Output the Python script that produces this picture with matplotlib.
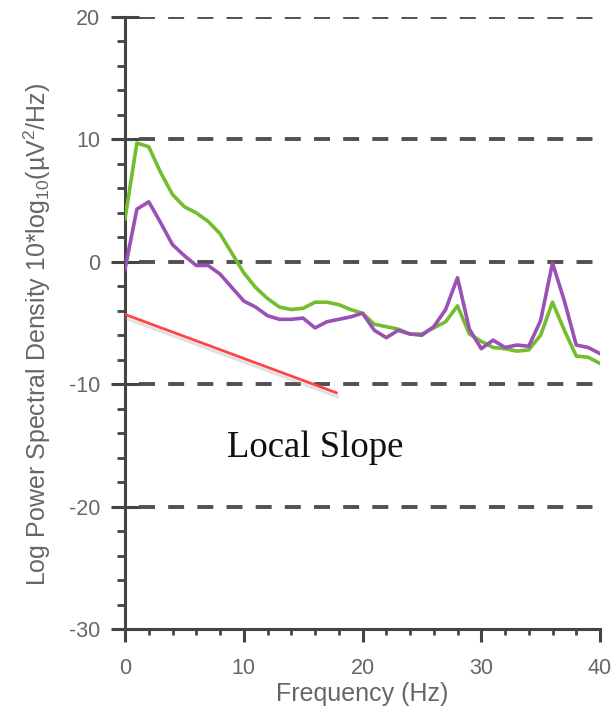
"""Log power spectral density of two EEG spectra with a local slope guide."""

import numpy as np
import matplotlib.pyplot as plt
import matplotlib.patheffects as pe
from matplotlib.ticker import MultipleLocator

plt.rcParams['font.family'] = ['Liberation Sans', 'DejaVu Sans']
plt.rcParams['mathtext.fontset'] = 'custom'
plt.rcParams['mathtext.rm'] = 'Liberation Sans'
plt.rcParams['mathtext.it'] = 'Liberation Sans:italic'
plt.rcParams['lines.scale_dashes'] = False
plt.rcParams['axes.unicode_minus'] = False

# spectra sampled at 1 Hz
freq = np.arange(0, 41)
psd_green = [3.5, 9.7, 9.4, 7.3, 5.5, 4.5, 4.0, 3.3, 2.3, 0.7,
             -0.9, -2.1, -3.0, -3.7, -3.9, -3.8, -3.3, -3.3, -3.5, -3.9,
             -4.2, -5.1, -5.3, -5.5, -5.9, -5.9, -5.4, -4.9, -3.6, -5.9,
             -6.5, -7.0, -7.1, -7.3, -7.2, -6.0, -3.3, -5.6, -7.7, -7.8,
             -8.3]
psd_purple = [-0.6, 4.3, 4.9, 3.2, 1.4, 0.5, -0.3, -0.3, -1.0, -2.1,
              -3.2, -3.7, -4.4, -4.7, -4.7, -4.6, -5.4, -4.9, -4.7, -4.5,
              -4.2, -5.6, -6.2, -5.6, -5.9, -6.0, -5.3, -3.9, -1.3, -5.5,
              -7.1, -6.4, -7.0, -6.8, -6.9, -4.8, -0.1, -3.2, -6.8, -7.0,
              -7.5]

# hand-drawn slope guide
slope_x = [0, 17.8]
slope_y = [-4.3, -10.7]

grid_levels = [20, 10, 0, -10, -20]

axis_col = '#444444'
text_col = '#666666'

fig = plt.figure(figsize=(6.16, 7.15), dpi=100)
ax = fig.add_axes([125 / 616, 86 / 715, 475 / 616, 612 / 715])

for lvl in grid_levels:
    ax.axhline(lvl, xmin=0.03, xmax=0.985, color='#505050', lw=2.8,
               linestyle=(0, (11.5, 9.5)), zorder=1)

ax.plot(freq, psd_green, color='#74bd2f', lw=2.6, zorder=3)
ax.plot(freq, psd_purple, color='#9a50b4', lw=2.6, zorder=3)

ax.plot(slope_x, slope_y, color='#ff4444', lw=2.0, zorder=4,
        path_effects=[pe.SimpleLineShadow(offset=(1, -3), shadow_color='#999999', alpha=0.3),
                      pe.Normal()])

ax.text(16.0, -15.2, 'Local Slope', family='Liberation Serif', fontsize=26.5,
        color='#111111', ha='center', va='center')

ax.set_xlim(0, 40)
ax.set_ylim(-30, 20)
ax.xaxis.set_major_locator(MultipleLocator(10))
ax.xaxis.set_minor_locator(MultipleLocator(2))
ax.yaxis.set_major_locator(MultipleLocator(10))
ax.yaxis.set_minor_locator(MultipleLocator(2))

for side in ['top', 'right']:
    ax.spines[side].set_visible(False)
for side in ['left', 'bottom']:
    ax.spines[side].set_color(axis_col)
    ax.spines[side].set_linewidth(2.2)

ax.tick_params(axis='y', which='major', direction='inout', length=20, width=2.2,
               color=axis_col, labelcolor=text_col, labelsize=15.5, pad=8)
ax.tick_params(axis='y', which='minor', direction='out', length=6, width=2.0,
               color=axis_col)
ax.tick_params(axis='x', which='major', direction='out', length=9, width=2.2,
               color=axis_col, labelcolor=text_col, labelsize=15.5, pad=12)
ax.tick_params(axis='x', which='minor', direction='out', length=4, width=2.0,
               color=axis_col)

ax.set_xlabel('Frequency (Hz)', fontsize=18, color=text_col, labelpad=2)
ax.set_ylabel('Log Power Spectral Density 10*log$_{10}$(µV$^2$/Hz)',
              fontsize=18, color=text_col)
ax.yaxis.set_label_coords(-0.152, 0.482)

fig.savefig('out.png', dpi=100)
